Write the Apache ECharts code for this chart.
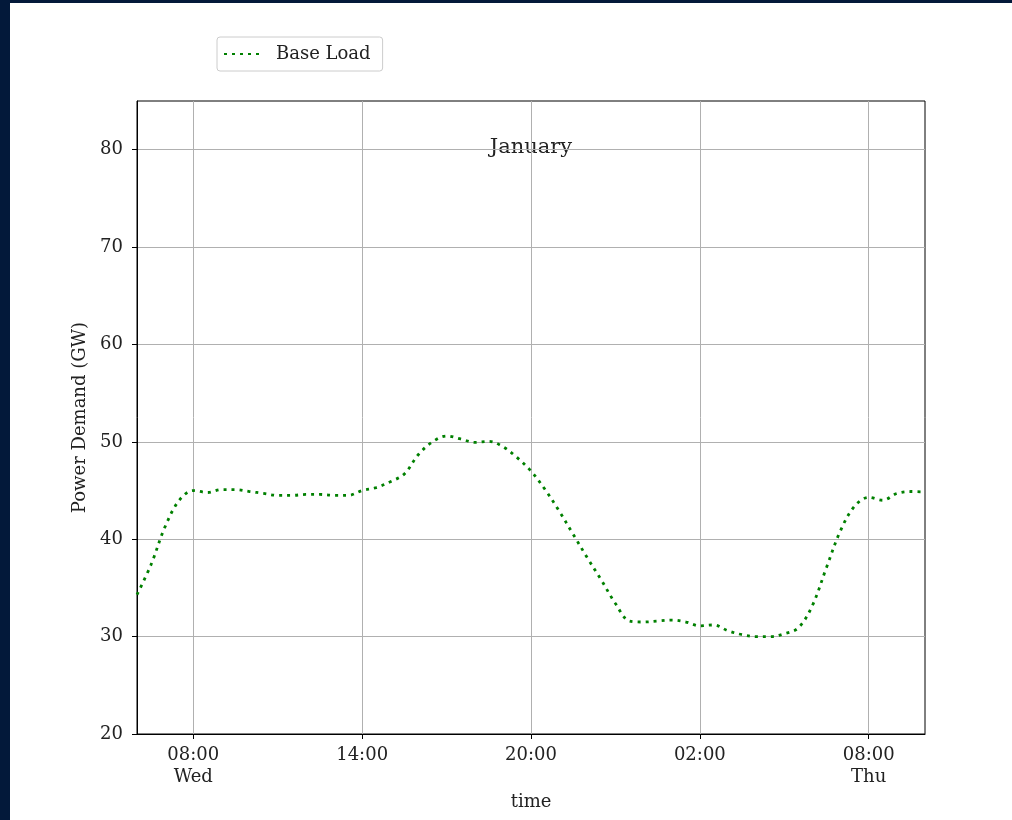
<!DOCTYPE html>
<html>
<head>
<meta charset="utf-8">
<script src="https://cdn.jsdelivr.net/npm/echarts@6/dist/echarts.min.js"></script>
<style>
  html, body { margin: 0; padding: 0; background: #03193a; }
  #chart { position: absolute; left: 10px; top: 3px; width: 1002px; height: 817px; background: #ffffff; }
</style>
</head>
<body>
<div id="chart"></div>
<script>
// Hours since Wednesday 00:00 (half-hourly samples, Wed 06:00 -> Thu 10:00)
const hours = [
  6, 6.5, 7, 7.5, 8, 8.5, 9, 9.5, 10, 10.5, 11, 11.5, 12, 12.5, 13, 13.5,
  14, 14.5, 15, 15.5, 16, 16.5, 17, 17.5, 18, 18.5, 19, 19.5, 20, 20.5,
  21, 21.5, 22, 22.5, 23, 23.5, 24, 24.5, 25, 25.5, 26, 26.5, 27, 27.5,
  28, 28.5, 29, 29.5, 30, 30.5, 31, 31.5, 32, 32.5, 33, 33.5, 34
];
// Base load demand in GW
const baseLoad = [
  34.3, 37.4, 41.3, 44.0, 45.0, 44.8, 45.1, 45.1, 44.9, 44.7, 44.5, 44.5, 44.6, 44.6, 44.5, 44.5,
  45.0, 45.3, 45.9, 46.7, 48.7, 50.0, 50.6, 50.3, 49.95, 50.05, 49.5, 48.4, 47.0, 45.1,
  42.9, 40.5, 38.1, 35.8, 33.4, 31.6, 31.5, 31.6, 31.7, 31.5, 31.1, 31.2, 30.6, 30.2,
  30.0, 30.0, 30.3, 30.9, 33.2, 37.1, 40.9, 43.4, 44.3, 44.0, 44.7, 44.9, 44.85
];
const xTickHours = [8, 14, 20, 26, 32];
const xTickLabels = ['08:00\nWed', '14:00', '20:00', '02:00', '08:00\nThu'];
const yTicks = [20, 30, 40, 50, 60, 70, 80];

const FONT = 'DejaVu Serif';
const chart = echarts.init(document.getElementById('chart'), null, { renderer: 'canvas' });

chart.setOption({
  backgroundColor: '#ffffff',
  animation: false,
  grid: {
    left: 127, top: 98, right: 87, bottom: 86,
    show: true, borderColor: '#000000', borderWidth: 1, backgroundColor: '#ffffff'
  },
  legend: {
    left: 207, top: 34,
    padding: [8, 12, 8, 6],
    borderColor: '#cccccc', borderWidth: 1, borderRadius: 3,
    itemWidth: 38, itemHeight: 14,
    itemStyle: { opacity: 0 },
    textStyle: { fontFamily: FONT, fontSize: 18, color: '#222222', padding: [0, 0, 0, 9] },
    data: ['Base Load']
  },
  graphic: [{
    type: 'text', x: 521, y: 145,
    style: { text: 'January', fontFamily: FONT, fontSize: 21, fill: '#222222',
             textAlign: 'center', textVerticalAlign: 'middle' }
  }],
  xAxis: {
    type: 'value', min: 6, max: 34,
    name: 'time', nameLocation: 'middle', nameGap: 58,
    nameTextStyle: { fontFamily: FONT, fontSize: 18, color: '#222222' },
    axisLine: { lineStyle: { color: '#000000', width: 1 } },
    axisTick: { show: true, customValues: xTickHours, length: 5, lineStyle: { color: '#000000' } },
    axisLabel: {
      customValues: xTickHours,
      formatter: function (v) { return xTickLabels[xTickHours.indexOf(v)]; },
      fontFamily: FONT, fontSize: 18, color: '#222222', lineHeight: 22, margin: 10
    },
    splitLine: { show: false }
  },
  yAxis: {
    type: 'value', min: 20, max: 85, interval: 10,
    name: 'Power Demand (GW)', nameLocation: 'middle', nameRotate: 90, nameGap: 46,
    nameTextStyle: { fontFamily: FONT, fontSize: 18, color: '#222222' },
    axisLine: { show: true, lineStyle: { color: '#000000', width: 1 } },
    axisTick: { show: true, customValues: yTicks, length: 5, lineStyle: { color: '#000000' } },
    axisLabel: { customValues: yTicks, fontFamily: FONT, fontSize: 18, color: '#222222', margin: 14 },
    splitLine: { show: true, lineStyle: { color: '#b0b0b0', width: 1 } }
  },
  series: [{
    name: 'Base Load',
    type: 'line',
    data: hours.map(function (h, i) { return [h, baseLoad[i]]; }),
    smooth: 0.35,
    symbol: 'none',
    z: 3,
    lineStyle: { color: '#008000', width: 2.8, type: [3, 5] },
    itemStyle: { color: '#008000' },
    markLine: {
      silent: true, symbol: 'none', z: 1,
      label: { show: false },
      lineStyle: { color: '#b0b0b0', width: 1, type: 'solid' },
      data: xTickHours.map(function (h) { return { xAxis: h }; })
    }
  }]
});
</script>
</body>
</html>
